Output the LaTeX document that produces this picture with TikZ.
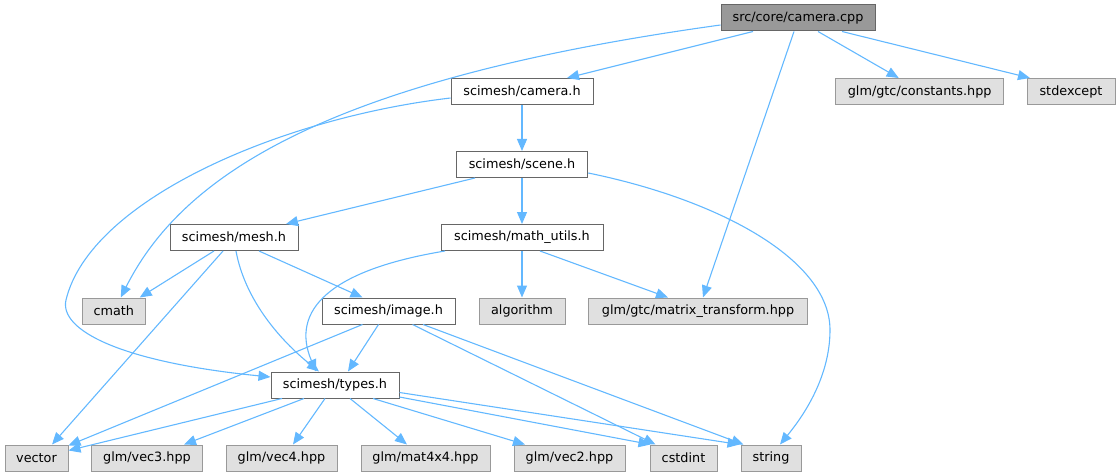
\documentclass[tikz,border=0pt]{standalone}
\usepackage{fontspec}
\setmainfont{DejaVu Sans}
\usetikzlibrary{arrows.meta}
\definecolor{edgec}{HTML}{63B8FF}
\definecolor{rootfill}{HTML}{999999}
\definecolor{rootdraw}{HTML}{666666}
\definecolor{extfill}{HTML}{E0E0E0}
\definecolor{extdraw}{HTML}{999999}
\begin{document}
\begin{tikzpicture}[x=1pt,y=-1pt,
  box/.style={line width=1pt, minimum height=26pt, inner sep=0pt, font=\fontsize{12.8}{14}\selectfont, text=black},
  root/.style={box, fill=rootfill, draw=rootdraw},
  int/.style={box, fill=white, draw=rootdraw},
  ext/.style={box, fill=extfill, draw=extdraw},
  edge/.style={draw=edgec, line width=1.1pt, -{Triangle[length=12pt,width=10pt]}}]
\useasboundingbox (0,0) rectangle (1117,476);
% nodes
\node[root, minimum width=154pt] (cpp) at (798,18) {src/core/camera.cpp};
\node[int, minimum width=142pt] (camh) at (522,91.5) {scimesh/camera.h};
\node[ext, minimum width=168pt] (const) at (919.7,91.5) {glm/gtc/constants.hpp};
\node[ext, minimum width=88pt] (stdexc) at (1071,91.5) {stdexcept};
\node[int, minimum width=131.5pt] (scene) at (522,164.5) {scimesh/scene.h};
\node[int, minimum width=128pt] (mesh) at (234,237.5) {scimesh/mesh.h};
\node[int, minimum width=162pt] (mu) at (522,237.5) {scimesh/math\_utils.h};
\node[ext, minimum width=62.5pt] (cmath) at (113.75,311) {cmath};
\node[int, minimum width=133pt] (image) at (388.5,311) {scimesh/image.h};
\node[ext, minimum width=86pt] (algo) at (522,311) {algorithm};
\node[ext, minimum width=218.5pt] (mt) at (698,311) {glm/gtc/matrix\_transform.hpp};
\node[int, minimum width=128pt] (types) at (335,385) {scimesh/types.h};
\node[ext, minimum width=63pt] (vector) at (36.5,458) {vector};
\node[ext, minimum width=110.5pt] (vec3) at (147,458) {glm/vec3.hpp};
\node[ext, minimum width=111pt] (vec4) at (281.5,458) {glm/vec4.hpp};
\node[ext, minimum width=129pt] (mat) at (425.5,458) {glm/mat4x4.hpp};
\node[ext, minimum width=111pt] (vec2) at (569.5,458) {glm/vec2.hpp};
\node[ext, minimum width=67pt] (cstdint) at (683.5,458) {cstdint};
\node[ext, minimum width=60pt] (string) at (771,458) {string};
% edges from camera.cpp
\draw[edge] ([xshift=-45pt]cpp.south) -- ([xshift=45pt]camh.north);
\draw[edge] ([yshift=-7pt]cpp.west) .. controls (321,80) and (181,178) .. ([xshift=7pt]cmath.north);
\draw[edge] ([xshift=-4pt]cpp.south) -- ([xshift=5pt]mt.north);
\draw[edge] ([xshift=20pt]cpp.south) -- ([xshift=-21pt]const.north);
\draw[edge] ([xshift=44pt]cpp.south) -- ([xshift=-41pt]stdexc.north);
% camera.h
\draw[edge] (camh.south) -- (scene.north);
\draw[edge] ([yshift=-6.5pt]camh.west) .. controls (280,118) and (90,200) .. (66,300) .. controls (59,330) and (120,362) .. ([yshift=8pt]types.west);
% scene.h
\draw[edge] ([xshift=-47pt]scene.south) -- ([xshift=52pt]mesh.north);
\draw[edge] (scene.south) -- (mu.north);
\draw[edge] ([yshift=-8.5pt]scene.east) .. controls (720,200) and (830,260) .. (830,330) .. controls (830,380) and (800,420) .. ([xshift=9pt]string.north);
% mesh.h
\draw[edge] ([xshift=-20pt]mesh.south) -- ([xshift=26pt]cmath.north);
\draw[edge] ([xshift=-11pt]mesh.south) -- ([xshift=15.5pt]vector.north);
\draw[edge] ([xshift=2pt]mesh.south) .. controls (245,300) and (280,340) .. ([xshift=-16pt]types.north);
\draw[edge] ([xshift=25pt]mesh.south) -- ([xshift=-26pt]image.north);
% math_utils.h
\draw[edge] ([xshift=-77pt]mu.south) .. controls (330,270) and (290,310) .. ([xshift=-19pt]types.north);
\draw[edge] (mu.south) -- (algo.north);
\draw[edge] ([xshift=18pt]mu.south) -- ([xshift=-30pt]mt.north);
% image.h
\draw[edge] ([xshift=-26pt]image.south) -- ([yshift=-1pt]vector.north east);
\draw[edge] ([xshift=-10pt]image.south) -- ([xshift=13pt]types.north);
\draw[edge] ([xshift=24pt]image.south) -- ([xshift=-28pt]cstdint.north);
\draw[edge] ([xshift=34.5pt]image.south) -- ([xshift=3pt]string.north west);
% types.h
\draw[edge] ([xshift=-53pt]types.south) -- ([yshift=-6pt]vector.north east);
\draw[edge] ([xshift=-31pt]types.south) -- ([xshift=37pt]vec3.north);
\draw[edge] ([xshift=-10pt]types.south) -- ([xshift=11.5pt]vec4.north);
\draw[edge] ([xshift=15pt]types.south) -- ([xshift=-18.5pt]mat.north);
\draw[edge] ([xshift=38pt]types.south) -- ([xshift=-44.5pt]vec2.north);
\draw[edge] ([yshift=-12pt]types.east) -- ([xshift=1pt]cstdint.north west);
\draw[edge] ([yshift=-7.5pt]types.east) -- ([xshift=-1pt]string.north west);
\end{tikzpicture}
\end{document}
